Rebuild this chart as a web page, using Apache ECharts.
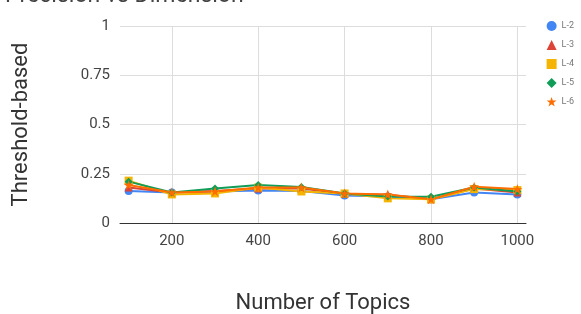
<!DOCTYPE html>
<html><head><meta charset="utf-8">
<script src="https://cdn.jsdelivr.net/npm/echarts@6/dist/echarts.min.js"></script>
<style>html,body{margin:0;padding:0;background:#fff}#c{width:581px;height:314px}</style>
</head><body><div id="c"></div>
<script>
const topics = [100, 200, 300, 400, 500, 600, 700, 800, 900, 1000];
const xTicks = [200, 400, 600, 800, 1000];
const yTicks = [0, 0.25, 0.5, 0.75, 1];
const seriesNames = ['L-2', 'L-3', 'L-4', 'L-5', 'L-6'];
const L2 = [0.163, 0.155, 0.160, 0.165, 0.163, 0.140, 0.135, 0.120, 0.155, 0.145];
const L3 = [0.180, 0.155, 0.163, 0.175, 0.175, 0.148, 0.143, 0.120, 0.175, 0.155];
const L4 = [0.215, 0.145, 0.150, 0.180, 0.160, 0.150, 0.125, 0.120, 0.172, 0.167];
const L5 = [0.210, 0.155, 0.175, 0.193, 0.183, 0.150, 0.135, 0.133, 0.180, 0.160];
const L6 = [0.193, 0.155, 0.160, 0.180, 0.180, 0.150, 0.145, 0.120, 0.184, 0.172];
const values = [L2, L3, L4, L5, L6];
const colors = ['#4285F4', '#DB4437', '#F4B400', '#0F9D58', '#FF6D01'];
const symbols = ['circle', 'triangle', 'rect', 'diamond',
  'path://M50 0 L61.8 35.1 L98.9 35.1 L69 56.8 L80.3 91.9 L50 70.2 L19.7 91.9 L31 56.8 L1.1 35.1 L38.2 35.1 Z'];

const chart = echarts.init(document.getElementById('c'));
chart.setOption({
  animation: false,
  title: {
    text: 'Precision vs Dimension', left: 0, top: -20,
    textStyle: {fontFamily: 'Roboto', fontSize: 23, fontWeight: 'normal', color: '#444'}
  },
  legend: {
    orient: 'vertical', right: 2, top: 16, itemGap: 9,
    itemWidth: 10, itemHeight: 10,
    textStyle: {fontFamily: 'Roboto', fontSize: 9, color: '#777'},
    data: seriesNames.map((n, i) => ({name: n, icon: symbols[i]}))
  },
  grid: {left: 120, right: 55, top: 26, bottom: 91, containLabel: false, outerBoundsMode: 'none'},
  xAxis: {
    type: 'value', min: 80, max: 1020,
    name: 'Number of Topics', nameLocation: 'middle', nameGap: 69,
    nameTextStyle: {fontFamily: 'Roboto', fontSize: 22, color: '#333'},
    axisLine: {show: true, lineStyle: {color: '#333', width: 1}},
    axisTick: {show: false, customValues: xTicks},
    axisLabel: {customValues: xTicks, fontFamily: 'Roboto', fontSize: 15, color: '#444', margin: 11,
      formatter: v => String(v)},
    splitLine: {show: true, lineStyle: {color: '#ddd'}}
  },
  yAxis: {
    type: 'value', min: 0, max: 1, interval: 0.25,
    name: 'Threshold-based', nameLocation: 'middle', nameGap: 88,
    nameTextStyle: {fontFamily: 'Roboto', fontSize: 22, color: '#333'},
    axisLine: {show: false},
    axisTick: {show: false},
    axisLabel: {fontFamily: 'Roboto', fontSize: 15, color: '#444', margin: 10,
      formatter: v => String(v)},
    splitLine: {show: true, lineStyle: {color: '#ddd'}}
  },
  series: seriesNames.map((n, i) => ({
    name: n, type: 'line',
    data: topics.map((t, j) => [t, values[i][j]]),
    symbol: symbols[i], symbolSize: i === 4 ? 10 : 8,
    showAllSymbol: true,
    itemStyle: {color: colors[i]},
    lineStyle: {color: colors[i], width: 2}
  }))
});
</script></body></html>
